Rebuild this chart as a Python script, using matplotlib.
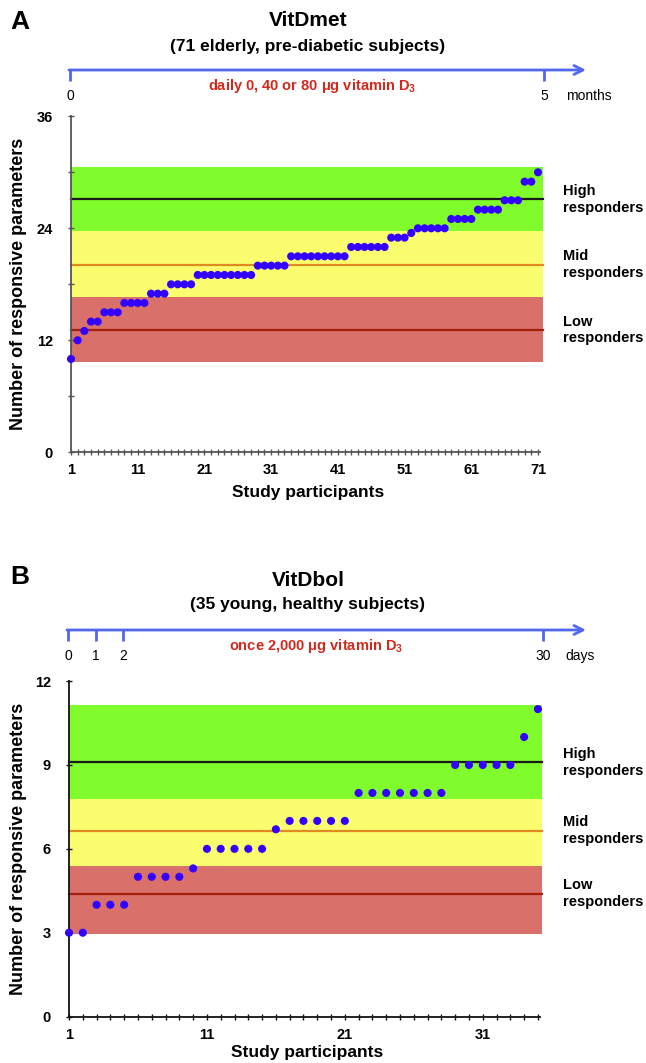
import numpy as np
import matplotlib
matplotlib.use("Agg")
import matplotlib.pyplot as plt
from matplotlib.transforms import blended_transform_factory

plt.rcParams['font.family'] = ['Liberation Sans', 'DejaVu Sans']
plt.rcParams['font.weight'] = 'bold'
plt.rcParams['mathtext.fontset'] = 'custom'
plt.rcParams['mathtext.rm'] = 'Liberation Sans:bold'
plt.rcParams['mathtext.bf'] = 'Liberation Sans:bold'

# ---- data ----
# VitDmet: responsive parameters per participant (sorted)
vitdmet = [10, 12, 13, 14, 14, 15, 15, 15, 16, 16, 16, 16, 17, 17, 17,
           18, 18, 18, 18, 19, 19, 19, 19, 19, 19, 19, 19, 19,
           20, 20, 20, 20, 20, 21, 21, 21, 21, 21, 21, 21, 21, 21,
           22, 22, 22, 22, 22, 22, 23, 23, 23, 23.5, 24, 24, 24, 24, 24,
           25, 25, 25, 25, 26, 26, 26, 26, 27, 27, 27, 29, 29, 30]
vitdmet_bands = [(9.7, 16.6), (16.6, 23.75), (23.75, 30.55)]   # low, mid, high
vitdmet_means = [13.1, 20.1, 27.1]
vitdmet_xticks = [1, 11, 21, 31, 41, 51, 61, 71]
vitdmet_yticks = [0, 12, 24, 36]

# VitDbol
vitdbol = [3, 3, 4, 4, 4, 5, 5, 5, 5, 5.3, 6, 6, 6, 6, 6, 6.7,
           7, 7, 7, 7, 7, 8, 8, 8, 8, 8, 8, 8, 9, 9, 9, 9, 9, 10, 11]
vitdbol_bands = [(2.95, 5.4), (5.4, 7.8), (7.8, 11.15)]
vitdbol_means = [4.4, 6.65, 9.1]
vitdbol_xticks = [1, 11, 21, 31]
vitdbol_yticks = [0, 3, 6, 9, 12]

groups = ['Low\nresponders', 'Mid\nresponders', 'High\nresponders']
band_colors = ['#d9706a', '#fafd6e', '#80fb2b']
line_colors = ['#a4200f', '#e08b22', '#1a1a1a']
dot_color = '#3300ff'

W, H = 646, 1063
fig = plt.figure(figsize=(W / 100, H / 100), dpi=100)


def panel(rect, values, bands, means, xticks, yticks, xmax, band_end, spine_col, ylab_x, xlab_y):
    ax = fig.add_axes(rect)
    n = np.arange(1, len(values) + 1)
    for (lo, hi), c in zip(bands, band_colors):
        ax.fill_between([1, band_end], lo, hi, color=c, lw=0, zorder=0, clip_on=False)
    for m, c in zip(means, line_colors):
        ax.plot([1, band_end], [m, m], color=c, lw=1.6, zorder=1, clip_on=False)
    ax.scatter(n, values, s=34, color=dot_color, edgecolors='none', zorder=5, clip_on=False)
    ax.set_xlim(1, xmax)
    ax.set_ylim(yticks[0], yticks[-1])
    ax.set_xticks(xticks)
    ax.set_xticks(n, minor=True)
    ax.set_yticks(yticks)
    ystep = yticks[1] - yticks[0]
    if ystep > 3:
        ax.set_yticks(np.arange(yticks[0], yticks[-1], ystep / 2), minor=True)
    for s in ['top', 'right']:
        ax.spines[s].set_visible(False)
    for s in ['left', 'bottom']:
        ax.spines[s].set_color(spine_col)
        ax.spines[s].set_linewidth(1.3)
    ax.tick_params(axis='x', which='both', direction='inout', length=4, width=1,
                   color=spine_col, pad=6, labelsize=10.5)
    ax.tick_params(axis='y', which='both', direction='inout', length=4, width=1,
                   color=spine_col, pad=11, labelsize=10.5)
    ax.set_ylabel('Number of responsive parameters', fontsize=13, fontweight='bold')
    ax.yaxis.set_label_coords(ylab_x, 0.5)
    ax.set_xlabel('Study participants', fontsize=12.5, fontweight='bold')
    ax.xaxis.set_label_coords(0.505, xlab_y)
    tr = blended_transform_factory(fig.transFigure, ax.transData)
    for g, m in zip(groups, means):
        ax.text(563 / W, m, g, transform=tr, ha='left', va='center',
                fontsize=10.5, fontweight='bold', linespacing=1.25)
    return ax


panel([71 / W, 1 - 452.3 / H, 469 / W, 336 / H], vitdmet, vitdmet_bands, vitdmet_means,
      vitdmet_xticks, vitdmet_yticks, 71.3, 71.7, '#555555', -0.094, -0.098)
panel([69 / W, 1 - 1016.6 / H, 471 / W, 335.5 / H], vitdbol, vitdbol_bands, vitdbol_means,
      vitdbol_xticks, vitdbol_yticks, 35.15, 35.3, '#111111', -0.090, -0.086)

# overlay in pixel coords for titles and timelines
ov = fig.add_axes([0, 0, 1, 1], zorder=-1)
ov.set_xlim(0, W)
ov.set_ylim(H, 0)
ov.axis('off')

arrow_col = '#5266f0'
red = '#d3291d'


def timeline(y, x0, x1, ticks, labels, unit, note, note_x):
    ov.annotate('', xy=(x1, y), xytext=(x0 - 1, y),
                arrowprops=dict(arrowstyle='->', lw=2, color=arrow_col,
                                mutation_scale=16, shrinkA=0, shrinkB=0))
    for tx, lab in zip(ticks, labels):
        ov.plot([tx, tx], [y, y + 11], color=arrow_col, lw=2, solid_capstyle='butt')
        ov.text(tx, y + 26, lab, ha='center', va='center', fontsize=10, fontweight='normal')
    ov.text(ticks[-1] + 22, y + 26, unit, ha='left', va='center', fontsize=10, fontweight='normal')
    ov.text(note_x, y + 16, note, ha='center', va='center', fontsize=10.5,
            fontweight='bold', color=red)


ov.text(10, 22, 'A', fontsize=19, fontweight='bold', ha='left', va='center')
ov.text(308, 20, 'VitDmet', fontsize=15, fontweight='bold', ha='center', va='center')
ov.text(308, 46, '(71 elderly, pre-diabetic subjects)', fontsize=12.5, fontweight='bold',
        ha='center', va='center')
timeline(70, 70, 586, [70, 544], ['0', '5'], 'months',
         r'daily 0, 40 or 80 μg vitamin D$_{3}$', 312)

ov.text(10, 577, 'B', fontsize=19, fontweight='bold', ha='left', va='center')
ov.text(308, 581, 'VitDbol', fontsize=15, fontweight='bold', ha='center', va='center')
ov.text(308, 604, '(35 young, healthy subjects)', fontsize=12.5, fontweight='bold',
        ha='center', va='center')
timeline(630, 68, 586, [68, 96, 123, 543], ['0', '1', '2', '30'], 'days',
         r'once 2,000 μg vitamin D$_{3}$', 316)

fig.savefig('out.png', dpi=100)
